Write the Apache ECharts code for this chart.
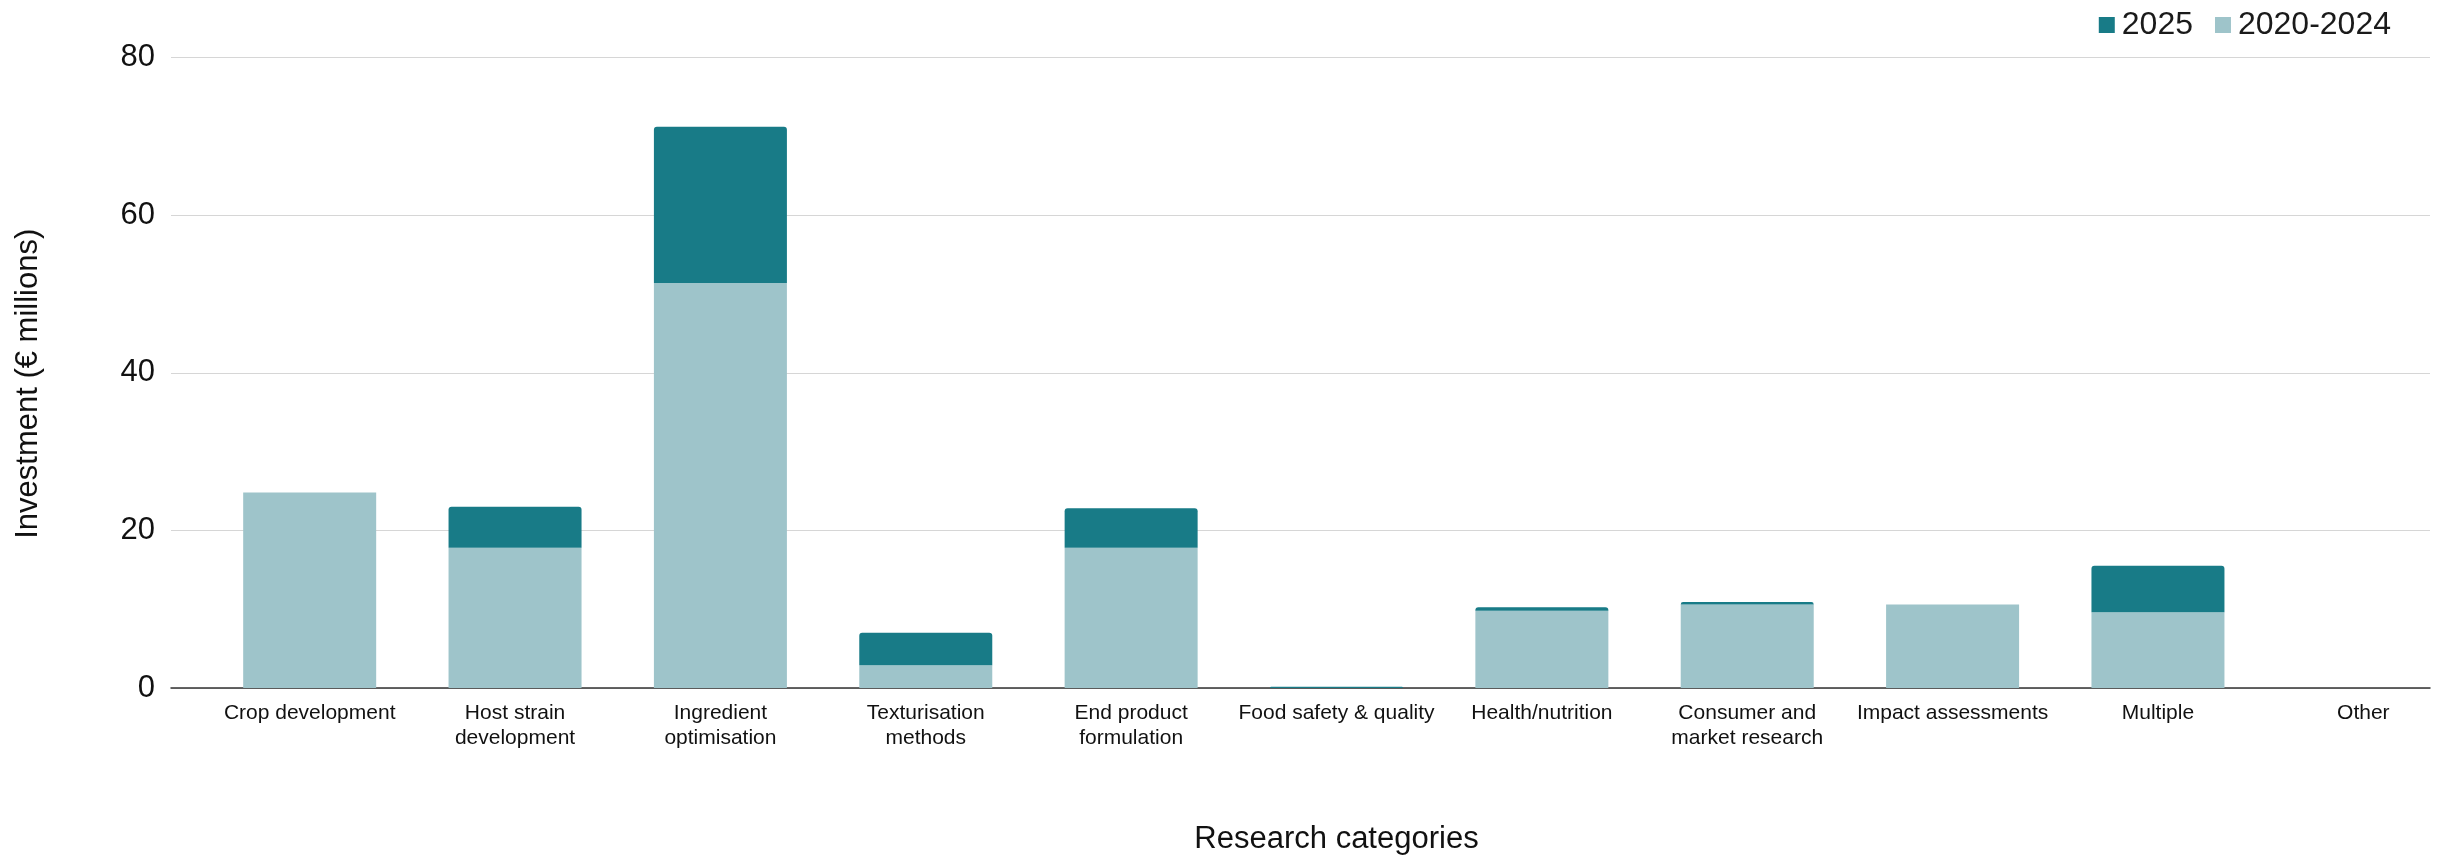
<!DOCTYPE html>
<html>
<head>
<meta charset="utf-8">
<script src="https://cdn.jsdelivr.net/npm/echarts@6/dist/echarts.min.js"></script>
<style>
  html, body { margin: 0; padding: 0; background: #ffffff; }
  #chart { width: 2438px; height: 855px; }
</style>
</head>
<body>
<div id="chart"></div>
<script>
// Research categories (line breaks as shown under the axis)
const categories = [
  'Crop development',
  'Host strain\ndevelopment',
  'Ingredient\noptimisation',
  'Texturisation\nmethods',
  'End product\nformulation',
  'Food safety & quality',
  'Health/nutrition',
  'Consumer and\nmarket research',
  'Impact assessments',
  'Multiple',
  'Other'
];

// Investment in € millions
const invest2020to2024 = [24.8, 17.8, 51.4, 2.9, 17.8, 0, 9.8, 10.6, 10.6, 9.6, 0];
const invest2025       = [0, 5.2, 19.8, 4.1, 5.0, 0.15, 0.45, 0.3, 0, 5.9, 0];

const yTicks = { min: 0, max: 80, interval: 20 };

const DARK = '#187B87';
const LIGHT = '#9EC4CA';
const FONT = 'Liberation Sans, Arial, sans-serif';

const chart = echarts.init(document.getElementById('chart'), null, { renderer: 'canvas' });

const option = {
  backgroundColor: '#ffffff',
  animation: false,
  textStyle: { fontFamily: FONT, color: '#111' },
  legend: {
    data: ['2025', '2020-2024'],
    right: 42,
    top: 4,
    icon: 'rect',
    itemWidth: 16,
    itemHeight: 16,
    itemGap: 22,
    textStyle: { fontFamily: FONT, fontSize: 32, color: '#1a1a1a', padding: [0, 0, 0, 2] }
  },
  grid: [
    // bars
    { left: 207, right: -28, top: 57.5, bottom: 167, outerBoundsMode: 'none' },
    // frame: value axis, gridlines and baseline
    { left: 171, right: 8, top: 57.5, bottom: 167, outerBoundsMode: 'none' }
  ],
  xAxis: [
    {
      type: 'category',
      gridIndex: 0,
      data: categories,
      axisLine: { show: false },
      axisTick: { show: false },
      axisLabel: {
        interval: 0,
        margin: 13,
        fontSize: 21,
        lineHeight: 25,
        color: '#111',
        fontFamily: FONT
      },
      name: 'Research categories',
      nameLocation: 'middle',
      nameGap: 136,
      nameTextStyle: { fontSize: 31, color: '#111', fontFamily: FONT }
    },
    {
      type: 'value',
      gridIndex: 1,
      min: 0,
      max: 1,
      axisLine: { show: true, lineStyle: { color: '#333', width: 1.5 } },
      axisTick: { show: false },
      axisLabel: { show: false },
      splitLine: { show: false }
    }
  ],
  yAxis: [
    {
      type: 'value',
      gridIndex: 0,
      min: yTicks.min,
      max: yTicks.max,
      interval: yTicks.interval,
      show: false
    },
    {
      type: 'value',
      gridIndex: 1,
      min: yTicks.min,
      max: yTicks.max,
      interval: yTicks.interval,
      axisLine: { show: false },
      axisTick: { show: false },
      axisLabel: { margin: 16, fontSize: 31, color: '#111', fontFamily: FONT },
      splitLine: { show: true, lineStyle: { color: '#d6d6d6', width: 1.2 } },
      name: 'Investment (€ millions)',
      nameLocation: 'middle',
      nameGap: 127,
      nameTextStyle: { fontSize: 31, color: '#111', fontFamily: FONT, padding: [0, 22, 0, 0] }
    }
  ],
  series: [
    {
      name: '2020-2024',
      type: 'bar',
      stack: 'total',
      xAxisIndex: 0,
      yAxisIndex: 0,
      barWidth: 133,
      itemStyle: { color: LIGHT },
      data: invest2020to2024
    },
    {
      name: '2025',
      type: 'bar',
      stack: 'total',
      xAxisIndex: 0,
      yAxisIndex: 0,
      barWidth: 133,
      itemStyle: { color: DARK, borderRadius: [3, 3, 0, 0] },
      data: invest2025
    }
  ]
};

chart.setOption(option);
</script>
</body>
</html>
